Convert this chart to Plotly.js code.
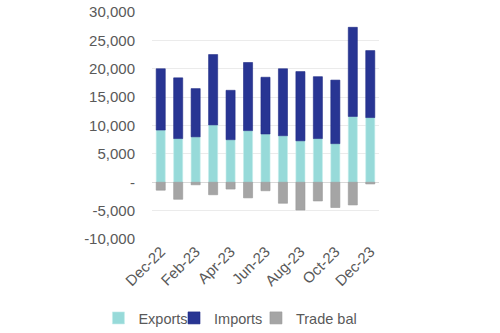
<!DOCTYPE html>
<html>
<head>
<meta charset="utf-8">
<script src="https://cdn.plot.ly/plotly-3.0.1.min.js"></script>
<style>html,body{margin:0;padding:0;background:#fff;}#chart{width:500px;height:333px;}</style>
</head>
<body>
<div id="chart"></div>
<script>
var months = ["Dec-22","Jan-23","Feb-23","Mar-23","Apr-23","May-23","Jun-23","Jul-23","Aug-23","Sep-23","Oct-23","Nov-23","Dec-23"];
var exportsVals = [9200, 7700, 8000, 10100, 7500, 9100, 8500, 8200, 7300, 7700, 6800, 11600, 11400];
var importsVals = [10800, 10700, 8500, 12400, 8700, 12000, 10000, 11800, 12200, 10900, 11200, 15700, 11800];
var tradeBalVals = [-1400, -3000, -450, -2200, -1200, -2750, -1500, -3700, -4900, -3300, -4450, -4000, -300];
var yTickVals = [-10000, -5000, 0, 5000, 10000, 15000, 20000, 25000, 30000];
var yTickText = ["-10,000", "-5,000", "-", "5,000", "10,000", "15,000", "20,000", "25,000", "30,000"];
var xTickVals = ["Dec-22","Feb-23","Apr-23","Jun-23","Aug-23","Oct-23","Dec-23"];

var font = {family: "Liberation Sans, Arial, sans-serif", size: 15, color: "#595959"};
var legendFont = {family: "Liberation Sans, Arial, sans-serif", size: 14.5, color: "#595959"};

var traces = [
  {type: "bar", name: "Exports", x: months, y: exportsVals, legend: "legend",
   marker: {color: "#97DAD9", line: {color: "#C4ECEB", width: 0.6}}},
  {type: "bar", name: "Imports", x: months, y: importsVals, legend: "legend2",
   marker: {color: "#283593", line: {color: "#1F2A85", width: 0.6}}},
  {type: "bar", name: "Trade bal", x: months, y: tradeBalVals, legend: "legend3",
   marker: {color: "#A5A5A5", line: {color: "#999999", width: 0.6}}}
];

function legendAt(xPos) {
  return {orientation: "h", x: xPos, xanchor: "left", y: -0.348, yanchor: "middle",
          font: legendFont, itemwidth: 30, bgcolor: "rgba(0,0,0,0)"};
}

var layout = {
  width: 500, height: 333,
  margin: {l: 152, r: 121, t: 12, b: 94, autoexpand: false},
  paper_bgcolor: "#fff", plot_bgcolor: "#fff",
  barmode: "relative",
  bargap: 0.48,
  font: font,
  showlegend: true,
  legend: legendAt(-0.236),
  legend2: legendAt(0.097),
  legend3: legendAt(0.458),
  xaxis: {type: "category", tickmode: "array", tickvals: xTickVals, tickangle: -45,
          showgrid: false, zeroline: false, showline: false, ticks: "", tickfont: font,
          automargin: false},
  yaxis: {range: [-10000, 30000], tickmode: "array", tickvals: yTickVals, ticktext: yTickText,
          showgrid: true, gridcolor: "#EBEBEB", gridwidth: 1,
          zeroline: true, zerolinecolor: "#D9D9D9", zerolinewidth: 1.5,
          showline: false, ticks: "", tickfont: font, ticklabelstandoff: 16, automargin: false}
};

Plotly.newPlot("chart", traces, layout, {displayModeBar: false, staticPlot: true});
</script>
</body>
</html>
